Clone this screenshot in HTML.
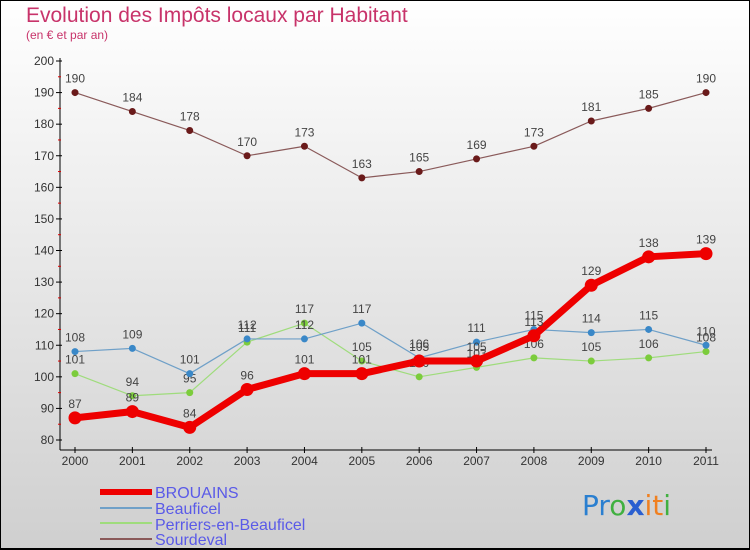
<!DOCTYPE html>
<html><head><meta charset="utf-8"><style>
body{margin:0}
#c{width:750px;height:550px;position:relative;overflow:hidden;background:linear-gradient(#ffffff,#cfcfcf);font-family:"Liberation Sans",sans-serif}
</style></head><body>
<div id="c">
<svg id="s" width="750" height="550">
<rect x="0.5" y="0.5" width="749" height="548" fill="none" stroke="#000"/>
<line x1="0" y1="549" x2="750" y2="549" stroke="#000" stroke-width="2"/>
<text x="26" y="22" font-size="21" fill="#c8336a">Evolution des Impôts locaux par Habitant</text>
<text x="26" y="39" font-size="12" fill="#c8336a">(en € et par an)</text>
<g id="axes"></g><g id="series"></g>
<g>
<line x1="100" y1="492" x2="152" y2="492" stroke="#e00" stroke-width="6"/>
<text x="155" y="498" font-size="16" fill="#5a5ae8">BROUAINS</text>
<line x1="100" y1="508" x2="152" y2="508" stroke="#6fa0c8" stroke-width="2"/>
<text x="155" y="514" font-size="16" fill="#5a5ae8">Beauficel</text>
<line x1="100" y1="523" x2="152" y2="523" stroke="#9fdc7c" stroke-width="2"/>
<text x="155" y="530" font-size="16" fill="#5a5ae8">Perriers-en-Beauficel</text>
<line x1="100" y1="539" x2="152" y2="539" stroke="#8a5a5a" stroke-width="2"/>
<text x="155" y="545" font-size="16" fill="#5a5ae8">Sourdeval</text>
</g>
<text x="582" y="515" font-size="28" font-family="DejaVu Sans"><tspan fill="#2a7fd0">Pr</tspan><tspan fill="#40b040">o</tspan><tspan fill="#2a5fd0" font-weight="bold">x</tspan><tspan fill="#f08020">it</tspan><tspan fill="#40b040">i</tspan></text>
</svg></div>
<script>
const years=["2000","2001","2002","2003","2004","2005","2006","2007","2008","2009","2010","2011"];
const brouains=[87,89,84,96,101,101,105,105,113,129,138,139];
const beauficel=[108,109,101,112,112,117,106,111,115,114,115,110];
const perriers=[101,94,95,111,117,105,100,103,106,105,106,108];
const sourdeval=[190,184,178,170,173,163,165,169,173,181,185,190];
const yTicks=[80,90,100,110,120,130,140,150,160,170,180,190,200];
const NS="http://www.w3.org/2000/svg";
const xs=i=>75+i*(706-75)/11;
const ys=v=>440-(v-80)*(440-61)/120;
function mk(t,a,p){const e=document.createElementNS(NS,t);for(const k in a)e.setAttribute(k,a[k]);p.appendChild(e);return e;}
const ax=document.getElementById('axes');
let l=mk('line',{x1:60,y1:58,x2:60,y2:450,stroke:'#000'},ax);


l=mk('line',{x1:60,y1:450,x2:712,y2:450,stroke:'#000'},ax);


yTicks.forEach(v=>{mk('line',{x1:56,y1:ys(v),x2:62,y2:ys(v),stroke:'#000'},ax);
if(v<200)mk('line',{x1:58,y1:ys(v+5),x2:61,y2:ys(v+5),stroke:'#d00'},ax);
const t=mk('text',{x:54,y:ys(v)+4,'font-size':12,'text-anchor':'end',fill:'#333'},ax);t.textContent=v;

});
years.forEach((y,i)=>{mk('line',{x1:xs(i),y1:447,x2:xs(i),y2:453,stroke:'#000'},ax);
const t=mk('text',{x:xs(i),y:465,'font-size':12,'text-anchor':'middle',fill:'#333'},ax);t.textContent=y;

});
const sg=document.getElementById('series');
function draw(name,data,color,w,r,dot){
const g=mk('g',{},sg);


mk('polyline',{points:data.map((v,i)=>xs(i)+','+ys(v)).join(' '),fill:'none',stroke:color,'stroke-width':w,'stroke-linejoin':'round'},g);
data.forEach((v,i)=>{const c=mk('circle',{cx:xs(i),cy:ys(v),r:r,fill:dot},g);


const t=mk('text',{x:xs(i),y:ys(v)-10,'font-size':12,'text-anchor':'middle',fill:'#444'},g);t.textContent=v;

});
}
draw('sourdeval',sourdeval,'#8a5a5a',1.2,3.5,'#6a1a1a');
draw('perriers',perriers,'#9fdc7c',1.2,3.5,'#7ccc3c');
draw('beauficel',beauficel,'#6fa0c8',1.2,3.5,'#3a88c8');
draw('brouains',brouains,'#e00',7,6.5,'#e00');
</script>
</body></html>
